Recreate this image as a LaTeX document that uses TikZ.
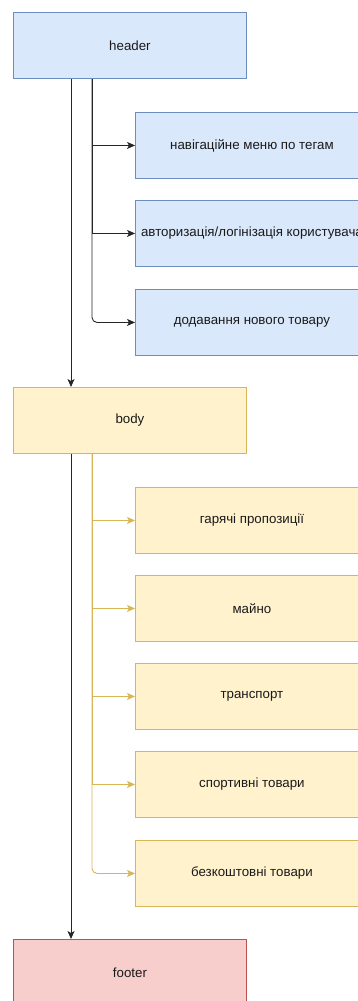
\documentclass[tikz,border=0pt]{standalone}
\usepackage{fontspec}
\setmainfont{Liberation Sans}
\usetikzlibrary{arrows.meta}
\definecolor{bluefill}{HTML}{DAE8FC}
\definecolor{bluedraw}{HTML}{6C8EBF}
\definecolor{yellowfill}{HTML}{FFF2CC}
\definecolor{yellowdraw}{HTML}{D6B656}
\definecolor{redfill}{HTML}{F8CECC}
\definecolor{reddraw}{HTML}{B85450}
\definecolor{txt}{HTML}{1A1A1A}
\tikzset{
  box/.style={draw, line width=0.9pt, minimum width=233pt, minimum height=66pt,
              inner sep=0pt, anchor=north west, font=\fontsize{13.3pt}{15pt}\selectfont, text=txt},
  bluebox/.style={box, fill=bluefill, draw=bluedraw},
  yellowbox/.style={box, fill=yellowfill, draw=yellowdraw},
  redbox/.style={box, fill=redfill, draw=reddraw},
  link/.style={line width=0.9pt, -{Stealth[length=8pt,width=7pt,inset=2pt]}},
  blacklink/.style={link, draw=black!85},
  yellowlink/.style={link, draw=yellowdraw},
  lastbranch/.style={rounded corners=5pt},
}
\begin{document}
\begin{tikzpicture}[x=1pt,y=-1pt]
\useasboundingbox (0,0) rectangle (357,1001);

% main column
\node[bluebox] (header) at (13,12) {header};
\node[yellowbox] (body) at (13,387) {body};
\node[redbox] (footer) at (13,939) {footer};

% header sections
\node[bluebox] (nav) at (135,112) {навігаційне меню по тегам};
\node[bluebox] (auth) at (135,200) {авторизація/логінізація користувача};
\node[bluebox] (add) at (135,289) {додавання нового товару};

% body sections
\node[yellowbox] (hot) at (135,487) {гарячі пропозиції};
\node[yellowbox] (prop) at (135,575) {майно};
\node[yellowbox] (trans) at (135,663) {транспорт};
\node[yellowbox] (sport) at (135,751) {спортивні товари};
\node[yellowbox] (free) at (135,840) {безкоштовні товари};

% vertical flow
\draw[blacklink] (header.south west) ++(58,0) coordinate (hs) -- (hs |- body.north);
\draw[blacklink] (body.south west) ++(58,0) coordinate (bs) -- (bs |- footer.north);

% header branches (shared trunk, only the last one turns visibly)
\coordinate (hb) at ([xshift=79pt]header.south west);
\draw[blacklink, lastbranch] (hb) |- (add.west);
\draw[blacklink] (hb) |- (nav.west);
\draw[blacklink] (hb) |- (auth.west);

% body branches
\coordinate (bb) at ([xshift=79pt]body.south west);
\draw[yellowlink, lastbranch] (bb) |- (free.west);
\draw[yellowlink] (bb) |- (hot.west);
\draw[yellowlink] (bb) |- (prop.west);
\draw[yellowlink] (bb) |- (trans.west);
\draw[yellowlink] (bb) |- (sport.west);
\end{tikzpicture}
\end{document}
